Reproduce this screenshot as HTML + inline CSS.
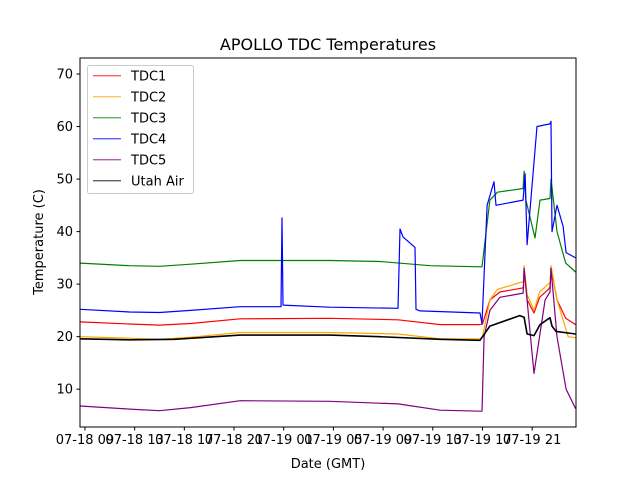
<!DOCTYPE html>
<html><head><meta charset="utf-8"><style>
body{margin:0;background:#fff}
svg{display:block;font-family:"DejaVu Sans","Liberation Sans",sans-serif}
</style></head><body>
<svg id="chart" width="640" height="480">
<rect width="640" height="480" fill="#fff"/>
<text x="328" y="50" font-size="16" text-anchor="middle">APOLLO TDC Temperatures</text>
<g id="plot"></g>
<g id="axes"></g>
<text x="328" y="468" font-size="13" text-anchor="middle">Date (GMT)</text>
<text transform="translate(43,242) rotate(-90)" font-size="13" text-anchor="middle">Temperature (C)</text>
<g id="legend"></g>
</svg>
<script>
const seriesNames=["TDC1","TDC2","TDC3","TDC4","TDC5","Utah Air"];
const seriesColors=["red","orange","green","blue","purple","black"];
const tdc1Times=[8.6,12.6,15.0,17.5,21.5,28.7,34.2,37.6,40.8,41.0,41.6,42.4,44.3,44.35,44.6,45.15,45.6,46.3,46.44,46.52,47.0,47.7,48.5];
const tdc1Values=[22.8,22.4,22.2,22.5,23.4,23.5,23.2,22.3,22.3,22.4,27,28.5,29.3,33,27,24.5,27.5,29,29.5,33.2,27,23.5,22.3];
const tdc2Times=[8.6,12.6,15.0,17.5,21.5,28.7,34.2,37.6,40.8,41.0,41.6,42.2,44.3,44.35,44.6,45.15,45.6,46.3,46.44,46.52,47.0,47.9,48.5];
const tdc2Values=[20,19.7,19.5,19.9,20.8,20.8,20.5,19.6,19.6,20,27,29,30.5,33.5,28,25,28.5,30,30.3,33.5,27,20,19.8];
const tdc3Times=[8.6,12.6,15.0,17.5,21.5,28.7,32.75,36.8,40.8,40.96,41.6,42.2,44.27,44.35,44.5,45.23,45.63,46.44,46.52,47.0,47.7,48.5];
const tdc3Values=[34,33.5,33.4,33.8,34.5,34.5,34.3,33.5,33.3,33.3,46,47.5,48.2,51.5,46,38.8,46,46.3,50,40,34,32.3];
const tdc4Times=[8.6,12.6,15.0,17.5,21.5,24.78,24.86,24.94,28.7,34.2,34.36,34.6,35.57,35.65,35.97,40.8,40.96,41.37,41.93,42.09,44.27,44.43,44.59,45.39,46.44,46.52,46.6,47.0,47.49,47.73,48.5];
const tdc4Values=[25.2,24.7,24.6,25,25.7,25.7,42.6,26,25.6,25.4,40.5,39,37,25.2,24.9,24.5,22.5,45,49.5,45,46,51,37.5,60,60.5,61,40,45,41,36,35];
const tdc5Times=[8.6,12.6,15.0,17.5,21.5,28.7,34.2,37.6,40.8,40.96,41.13,41.6,42.4,44.27,44.35,44.99,45.15,46.04,46.44,46.52,47.0,47.73,48.5];
const tdc5Values=[6.8,6.2,5.9,6.5,7.8,7.7,7.2,6.0,5.8,5.8,20,25,27.5,28.3,33,17,13,27,28.5,33,20,10,6.3];
const utahTimes=[8.6,12.6,16.2,19.5,21.5,28.7,32.75,37.6,40.8,41.6,44.0,44.35,44.59,45.15,45.63,46.44,46.6,46.92,48.5];
const utahValues=[19.6,19.4,19.5,20,20.3,20.3,20,19.5,19.3,22,24,23.7,20.5,20.2,22.3,23.6,22,21,20.5];
const allTimes=[tdc1Times,tdc2Times,tdc3Times,tdc4Times,tdc5Times,utahTimes];
const allValues=[tdc1Values,tdc2Values,tdc3Values,tdc4Values,tdc5Values,utahValues];
const yTicks=[10,20,30,40,50,60,70];
const xTickHours=[9,13,17,21,25,29,33,37,41,45];
const xTickLabels=["07-18 09","07-18 13","07-18 17","07-18 21","07-19 01","07-19 05","07-19 09","07-19 13","07-19 17","07-19 21"];

const L=80,R=576,T=58,B=427;
const xMin=8.6,xMax=48.53,yMin=2.8,yMax=73.05;
function xs(h){return L+(h-xMin)/(xMax-xMin)*(R-L);}
function ys(v){return B-(v-yMin)/(yMax-yMin)*(B-T);}
const NS="http://www.w3.org/2000/svg";
function mk(tag,attrs,parent){const e=document.createElementNS(NS,tag);for(const k in attrs)e.setAttribute(k,attrs[k]);parent.appendChild(e);return e;}
const plot=document.getElementById('plot'),axes=document.getElementById('axes'),legend=document.getElementById('legend');
for(let s=0;s<seriesNames.length;s++){
  const pts=allTimes[s].map((t,i)=>xs(t).toFixed(1)+','+ys(allValues[s][i]).toFixed(1)).join(' ');
  const pl=mk('polyline',{points:pts,fill:'none',stroke:seriesColors[s],'stroke-width':s===5?1.6:1.2,'stroke-linejoin':'round'},plot);
  
  
}
const frame=mk('rect',{x:L,y:T,width:R-L,height:B-T,fill:'none',stroke:'#000','stroke-width':1},axes);


yTicks.forEach(v=>{
  const y=ys(v);
  mk('line',{x1:L-3.5,x2:L,y1:y,y2:y,stroke:'#000'},axes);
  const t=mk('text',{x:L-7,y:y+4.5,'font-size':13,'text-anchor':'end'},axes);
  t.textContent=v;
  
  
});
xTickHours.forEach((h,i)=>{
  const x=xs(h);
  mk('line',{x1:x,x2:x,y1:B,y2:B+3.5,stroke:'#000'},axes);
  const t=mk('text',{x:x,y:B+17,'font-size':13,'text-anchor':'middle'},axes);
  t.textContent=xTickLabels[i];
  
  
});
const box=mk('rect',{x:87.5,y:65.5,width:106,height:128,rx:2,fill:'#fff','fill-opacity':0.8,stroke:'#ccc'},legend);


seriesNames.forEach((n,i)=>{
  const y=75.8+i*21;
  const ln=mk('line',{x1:93,x2:121,y1:y,y2:y,stroke:seriesColors[i],'stroke-width':0.8},legend);
  
  
  const t=mk('text',{x:131,y:y+4.7,'font-size':13},legend);
  t.textContent=n;
  
  
});
</script>
</body></html>
